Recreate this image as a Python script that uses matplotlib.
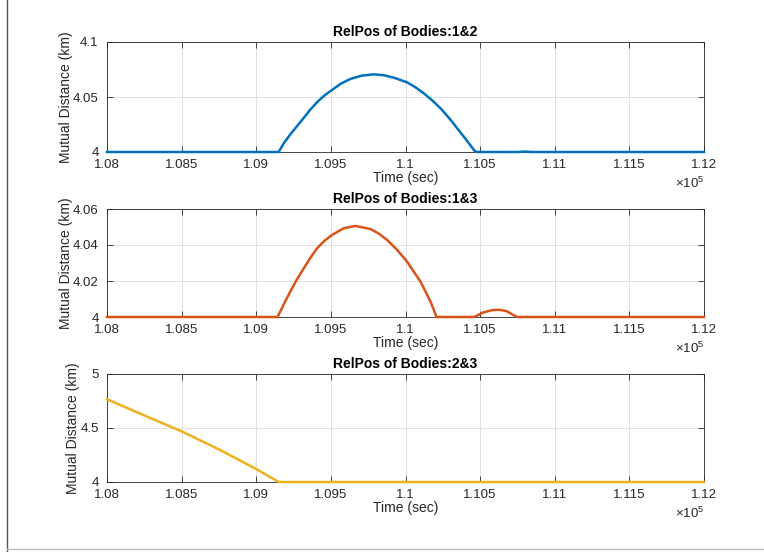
import numpy as np
import matplotlib
matplotlib.use('Agg')
import matplotlib.pyplot as plt
from matplotlib.lines import Line2D

plt.rcParams['font.family'] = ['Liberation Sans', 'DejaVu Sans']
plt.rcParams['mathtext.fontset'] = 'custom'
plt.rcParams['mathtext.rm'] = 'Liberation Sans'

# time in units of 1e5 sec
t12 = [1.08, 1.0915, 1.09185, 1.09228, 1.09275, 1.09318, 1.09362, 1.09407, 1.09455, 1.09508,
       1.09565, 1.09631, 1.09705, 1.09787, 1.09855, 1.09921, 1.10011, 1.10065, 1.10123,
       1.1018, 1.10235, 1.1029, 1.10347, 1.10405, 1.10463, 1.1048, 1.1075, 1.108, 1.1085, 1.12]
d12 = [4.0, 4.0, 4.0080, 4.0160, 4.0238, 4.0310, 4.0385, 4.0452, 4.0512, 4.0564,
       4.0620, 4.0664, 4.0694, 4.0706, 4.0698, 4.0676, 4.0633, 4.0590, 4.0533,
       4.0468, 4.0397, 4.0312, 4.0215, 4.0115, 4.001, 4.0, 4.0, 4.0004, 4.0, 4.0]

t13 = [1.08, 1.09143, 1.09185, 1.09228, 1.09272, 1.09318, 1.09362, 1.09407, 1.09455, 1.09508,
       1.09586, 1.09664, 1.09765, 1.09820, 1.09877, 1.09945, 1.10011, 1.10101, 1.10168, 1.10208,
       1.1046, 1.1052, 1.1058, 1.1063, 1.1068, 1.1072, 1.1075, 1.12]
d13 = [4.0, 4.0, 4.0072, 4.0141, 4.0208, 4.0270, 4.0328, 4.0381, 4.0422, 4.0456,
       4.0493, 4.0506, 4.0489, 4.0464, 4.0428, 4.0372, 4.0307, 4.0196, 4.0085, 4.0,
       4.0, 4.0025, 4.0038, 4.004, 4.0032, 4.0012, 4.0, 4.0]

t23 = [1.08, 1.08244, 1.08505, 1.08758, 1.09004, 1.09139, 1.0915, 1.12]
d23 = [4.766, 4.620, 4.466, 4.296, 4.117, 4.009, 4.0, 4.0]

xticks = [1.08, 1.085, 1.09, 1.095, 1.1, 1.105, 1.11, 1.115, 1.12]
xticklabels = ['1.08', '1.085', '1.09', '1.095', '1.1', '1.105', '1.11', '1.115', '1.12']

panels = [
    ('RelPos of Bodies:1&2', t12, d12, '#0072BD', [4, 4.05, 4.1], ['4', '4.05', '4.1']),
    ('RelPos of Bodies:1&3', t13, d13, '#D95319', [4, 4.02, 4.04, 4.06], ['4', '4.02', '4.04', '4.06']),
    ('RelPos of Bodies:2&3', t23, d23, '#EDB120', [4, 4.5, 5], ['4', '4.5', '5']),
]

W, H = 764, 552
fig = plt.figure(figsize=(W / 100, H / 100), dpi=100)

# axes boxes in pixels: (left, top, right, bottom)
boxes = [(107, 42, 704, 152), (107, 209, 704, 317), (107, 374, 704, 482)]
txt = '#262626'

for (title, t, d, col, yt, ytl), (l, tp, r, b) in zip(panels, boxes):
    ax = fig.add_axes([l / W, 1 - b / H, (r - l) / W, (b - tp) / H])
    ax.plot(np.array(t) * 1e5, d, color=col, lw=1.8, clip_on=False, zorder=3)
    ax.set_xlim(1.08e5, 1.12e5)
    ax.set_ylim(yt[0], yt[-1])
    ax.set_xticks(np.array(xticks) * 1e5)
    ax.set_xticklabels(xticklabels)
    ax.set_yticks(yt)
    ax.set_yticklabels(ytl)
    ax.tick_params(direction='in', length=4, width=0.6, top=True, right=True,
                   labelsize=9.5, colors=txt)
    ax.tick_params(axis='x', pad=5)
    ax.tick_params(axis='y', pad=6)
    ax.grid(True, color='#dcdcdc', lw=0.6)
    ax.set_axisbelow(True)
    for s in ax.spines.values():
        s.set_color(txt)
        s.set_linewidth(0.6)
    ax.set_title(title, fontsize=10, fontweight='bold', pad=4, color='black')
    ax.set_xlabel('Time (sec)', fontsize=10, color=txt, labelpad=0)
    ax.set_ylabel('Mutual Distance (km)', fontsize=10, color=txt, labelpad=0)
    ax.text(1.0, -0.29, r'$\times10^{5}$', transform=ax.transAxes, ha='right', va='center',
            fontsize=9.5, color=txt)

# window frame
fig.add_artist(Line2D([7 / W, 7 / W], [0, 1], transform=fig.transFigure, color='#555555', lw=1))
fig.add_artist(Line2D([7 / W, 1], [1 - 549 / H, 1 - 549 / H], transform=fig.transFigure,
                      color='#bbbbbb', lw=1))

fig.savefig('out.png', dpi=100)
